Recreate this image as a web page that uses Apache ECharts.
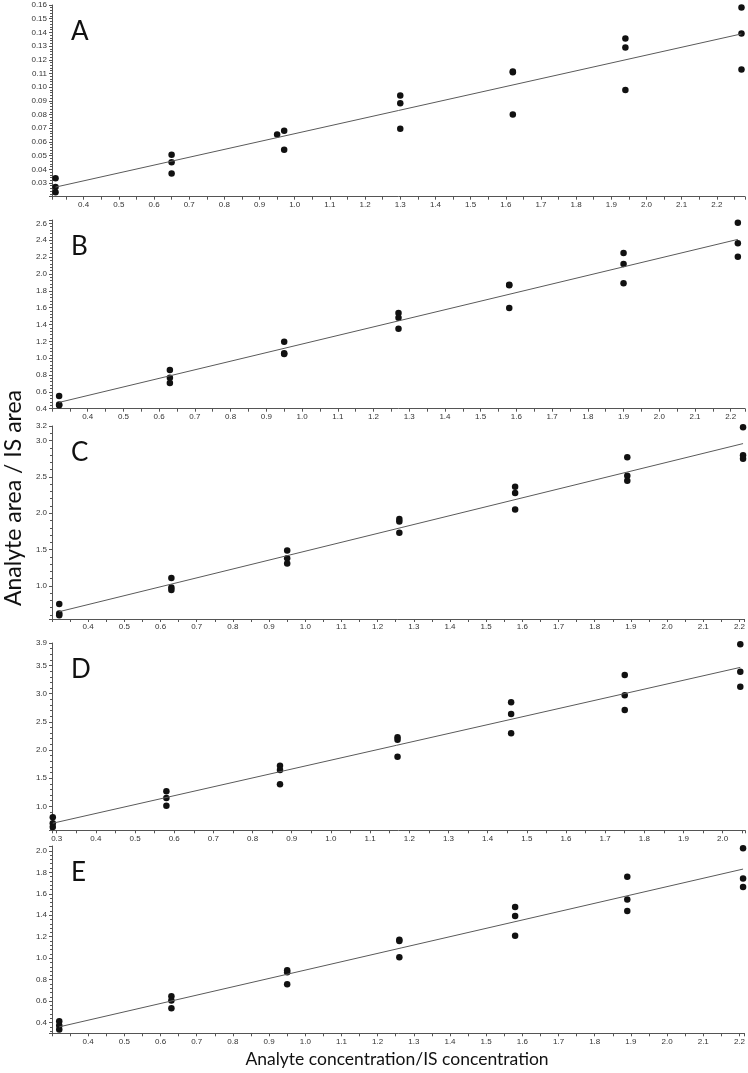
<!DOCTYPE html>
<html>
<head>
<meta charset="utf-8">
<script src="https://cdn.jsdelivr.net/npm/echarts@6/dist/echarts.min.js"></script>
<style>
html, body { margin: 0; padding: 0; background: #fff; }
#main { width: 748px; height: 1073px; }
</style>
</head>
<body>
<div id="main"></div>
<script>
// panel letters
var panelNames = ['A', 'B', 'C', 'D', 'E'];

// measured points [concentration ratio, area ratio]
var pointsA = [
  [0.32, 0.0334], [0.32, 0.0271], [0.32, 0.0232],
  [0.65, 0.0507], [0.65, 0.0451], [0.65, 0.0370],
  [0.95, 0.0655], [0.97, 0.0682], [0.97, 0.0543],
  [1.30, 0.0939], [1.30, 0.0883], [1.30, 0.0696],
  [1.62, 0.1115], [1.62, 0.1108], [1.62, 0.0801],
  [1.94, 0.1355], [1.94, 0.1289], [1.94, 0.0980],
  [2.27, 0.1581], [2.27, 0.1391], [2.27, 0.1129]
];
var pointsB = [
  [0.32, 0.550], [0.32, 0.451], [0.32, 0.440],
  [0.63, 0.859], [0.63, 0.768], [0.63, 0.705],
  [0.95, 1.195], [0.95, 1.057], [0.95, 1.050],
  [1.27, 1.536], [1.27, 1.480], [1.27, 1.350],
  [1.58, 1.872], [1.58, 1.864], [1.58, 1.595],
  [1.90, 2.248], [1.90, 2.118], [1.90, 1.888],
  [2.22, 2.608], [2.22, 2.363], [2.22, 2.205]
];
var pointsC = [
  [0.32, 0.752], [0.32, 0.619], [0.32, 0.595],
  [0.63, 1.110], [0.63, 0.977], [0.63, 0.945],
  [0.95, 1.487], [0.95, 1.381], [0.95, 1.308],
  [1.26, 1.919], [1.26, 1.887], [1.26, 1.731],
  [1.58, 2.365], [1.58, 2.278], [1.58, 2.052],
  [1.89, 2.769], [1.89, 2.517], [1.89, 2.448],
  [2.21, 3.183], [2.21, 2.797], [2.21, 2.751]
];
var pointsD = [
  [0.29, 0.805], [0.29, 0.698], [0.29, 0.633],
  [0.58, 1.266], [0.58, 1.148], [0.58, 1.012],
  [0.87, 1.722], [0.87, 1.645], [0.87, 1.391],
  [1.17, 2.225], [1.17, 2.183], [1.17, 1.882],
  [1.46, 2.846], [1.46, 2.639], [1.46, 2.296],
  [1.75, 3.331], [1.75, 2.970], [1.75, 2.710],
  [2.045, 3.876], [2.045, 3.391], [2.045, 3.124]
];
var pointsE = [
  [0.32, 0.412], [0.32, 0.372], [0.32, 0.335],
  [0.63, 0.645], [0.63, 0.605], [0.63, 0.533],
  [0.95, 0.887], [0.95, 0.868], [0.95, 0.757],
  [1.26, 1.172], [1.26, 1.160], [1.26, 1.008],
  [1.58, 1.476], [1.58, 1.392], [1.58, 1.209],
  [1.89, 1.758], [1.89, 1.547], [1.89, 1.439],
  [2.21, 2.025], [2.21, 1.743], [2.21, 1.662]
];

// calibration lines, end points
var fitA = [[0.32, 0.027], [2.27, 0.1389]];
var fitB = [[0.32, 0.475], [2.22, 2.41]];
var fitC = [[0.32, 0.646], [2.21, 2.958]];
var fitD = [[0.29, 0.70], [2.045, 3.467]];
var fitE = [[0.32, 0.36], [2.21, 1.83]];

// axis ranges and label steps
var xMin = [0.31, 0.30, 0.30, 0.288, 0.30];
var xMax = [2.28, 2.24, 2.212, 2.057, 2.214];
var yMin = [0.02, 0.4, 0.545, 0.574, 0.30];
var yMax = [0.16, 2.64, 3.2, 3.9, 2.045];
var yStep = [0.01, 0.2, 0.5, 0.5, 0.2];
var yDigits = [2, 1, 1, 1, 1];
var yShowMin = [false, true, false, false, false];
var yShowMax = [true, false, true, true, false];

var points = [pointsA, pointsB, pointsC, pointsD, pointsE];
var fits = [fitA, fitB, fitC, fitD, fitE];

// grid placement
var gridTop = [5, 220, 426, 643, 846];
var gridHeight = [191.7, 188.7, 193, 187.3, 187.3];

var chart = echarts.init(document.getElementById('main'));

var axisColor = '#555';
var labelFont = 'Liberation Sans';

var grids = [], xAxes = [], yAxes = [], series = [], titles = [];
for (var i = 0; i < 5; i++) {
  grids.push({ left: 52, right: 3, top: gridTop[i], height: gridHeight[i] });

  xAxes.push({
    type: 'value', gridIndex: i, min: xMin[i], max: xMax[i],
    minInterval: 0.1, maxInterval: 0.1,
    axisLine: { show: true, onZero: false, lineStyle: { color: axisColor, width: 1 } },
    axisTick: { show: true, length: 3, lineStyle: { color: axisColor } },
    minorTick: { show: true, splitNumber: 2, length: 3, lineStyle: { color: axisColor } },
    splitLine: { show: false },
    axisLabel: {
      showMinLabel: false, showMaxLabel: false, margin: 4,
      fontSize: 8, color: '#333', fontFamily: labelFont,
      formatter: function (v) { return v.toFixed(1); }
    }
  });

  (function (d) {
    yAxes.push({
      type: 'value', gridIndex: i, min: yMin[i], max: yMax[i],
      minInterval: yStep[i], maxInterval: yStep[i],
      axisLine: { show: true, onZero: false, lineStyle: { color: axisColor, width: 1 } },
      axisTick: { show: true, length: 3, lineStyle: { color: axisColor } },
      minorTick: { show: true, splitNumber: 5, length: 2, lineStyle: { color: axisColor } },
      splitLine: { show: false },
      axisLabel: {
        showMinLabel: yShowMin[i], showMaxLabel: yShowMax[i], margin: 5,
        fontSize: 8, color: '#333', fontFamily: labelFont,
        formatter: function (v) { return v.toFixed(d); }
      }
    });
  })(yDigits[i]);

  series.push({
    type: 'line', xAxisIndex: i, yAxisIndex: i, data: fits[i],
    showSymbol: false, silent: true,
    lineStyle: { color: '#5a5a5a', width: 1 }
  });
  series.push({
    type: 'scatter', xAxisIndex: i, yAxisIndex: i, data: points[i],
    symbolSize: 6.5, itemStyle: { color: '#111', opacity: 1 }
  });

  titles.push({
    text: panelNames[i], left: 66, top: gridTop[i] + 9,
    textStyle: { fontSize: 26, fontWeight: 'normal', color: '#111', fontFamily: 'Lato' }
  });
}

var option = {
  animation: false,
  title: titles,
  grid: grids,
  xAxis: xAxes,
  yAxis: yAxes,
  series: series,
  graphic: [
    {
      type: 'text', x: 2, y: 498, rotation: Math.PI / 2,
      style: {
        text: 'Analyte area / IS area', fontSize: 23, fontFamily: 'Lato',
        fill: '#111', align: 'center', verticalAlign: 'top'
      }
    },
    {
      type: 'text', x: 397, y: 1050,
      style: {
        text: 'Analyte concentration/IS concentration', fontSize: 17.5, fontFamily: 'Lato',
        fill: '#111', align: 'center', verticalAlign: 'top'
      }
    }
  ]
};

chart.setOption(option);
</script>
</body>
</html>
